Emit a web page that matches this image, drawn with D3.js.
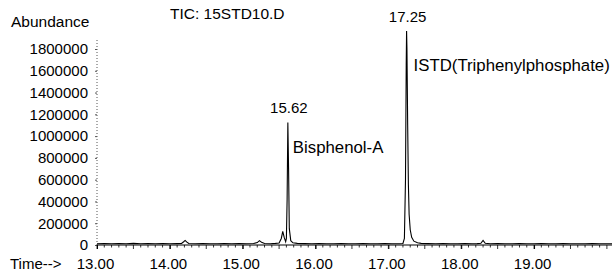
<!DOCTYPE html>
<html><head><meta charset="utf-8">
<script src="https://cdn.jsdelivr.net/npm/d3@7"></script>
<style>
html,body{margin:0;padding:0;background:#fff;}
svg text{font-family:"Liberation Sans",Arial,sans-serif;fill:#000;}
</style></head>
<body><svg id="c" width="616" height="271"></svg>
<script>
// Retention time (min)
const times = [13.00,13.10,13.20,13.30,13.40,13.50,13.60,13.70,13.80,13.90,14.00,14.10,14.16,14.19,14.21,14.23,14.26,14.35,14.45,14.55,14.65,14.75,14.85,14.95,15.05,15.15,15.20,15.23,15.26,15.30,15.38,15.45,15.50,15.53,15.55,15.57,15.59,15.60,15.61,15.62,15.63,15.64,15.66,15.69,15.75,15.85,15.95,16.05,16.15,16.25,16.35,16.45,16.55,16.65,16.75,16.85,16.95,17.05,17.15,17.20,17.22,17.235,17.245,17.25,17.255,17.265,17.275,17.285,17.30,17.32,17.35,17.40,17.45,17.55,17.65,17.75,17.85,17.95,18.05,18.15,18.22,18.27,18.30,18.33,18.40,18.50,18.60,18.70,18.80,18.90,19.00,19.10,19.20,19.30,19.40,19.50,19.60,19.70,19.80,19.90,20.00,20.07];
// Total ion current abundance
const abundance = [12000,14000,11000,13000,12000,15000,12000,13000,11000,14000,12000,13000,14000,30000,42000,28000,14000,12000,13000,11000,12000,14000,12000,13000,12000,14000,22000,40000,24000,14000,12000,15000,18000,60000,125000,70000,30000,60000,420000,1125000,700000,150000,40000,20000,15000,13000,12000,13000,11000,12000,13000,11000,12000,13000,11000,12000,13000,12000,12000,14000,60000,600000,1650000,1965000,1800000,1100000,550000,280000,140000,70000,35000,20000,15000,13000,12000,13000,11000,12000,13000,12000,13000,16000,42000,16000,12000,13000,11000,12000,13000,12000,12000,13000,11000,12000,13000,12000,11000,12000,13000,12000,12000,12000];
const yTicks = [0,200000,400000,600000,800000,1000000,1200000,1400000,1600000,1800000];
const xTicks = [13,14,15,16,17,18,19];
const peakLabels = [{t:15.62, text:"15.62"},{t:17.25, text:"17.25"}];
const compoundNames = ["Bisphenol-A","ISTD(Triphenylphosphate)"];

const svg = d3.select("#c");
const x = d3.scaleLinear().domain([13,20.07]).range([97,612]);
const y = d3.scaleLinear().domain([0,1800000]).range([245,49]);

// y axis (dotted)
svg.append("line").attr("x1",97).attr("x2",97).attr("y1",40).attr("y2",245)
  .attr("stroke","#555").attr("stroke-width",1).attr("stroke-dasharray","1,2");
const yAx = svg.append("g").attr("transform","translate(97,0)")
  .call(d3.axisLeft(y).tickValues(yTicks).tickSize(2).tickFormat(d3.format("d")));
yAx.select(".domain").remove();
yAx.selectAll("line").attr("stroke","#555");
yAx.selectAll("text").attr("x",-9).attr("font-size","15px").attr("font-family","Liberation Sans, Arial, sans-serif").attr("fill","#000");

// x axis
const xAx = svg.append("g").attr("transform","translate(0,245)")
  .call(d3.axisBottom(x).tickValues(xTicks).tickSize(4).tickPadding(9).tickFormat(d3.format(".2f")));
xAx.select(".domain").attr("d","M97,0H612").attr("stroke","#000");
xAx.selectAll("text").attr("font-size","15px").attr("font-family","Liberation Sans, Arial, sans-serif").attr("fill","#000").attr("dx","-2");
const minor = d3.range(130,201,1).map(v=>v/10).filter(v=>v<=20.07);
svg.append("g").selectAll("line").data(minor).join("line")
  .attr("x1",d=>x(d)).attr("x2",d=>x(d)).attr("y1",245).attr("y2",d=>Math.abs(d*2-Math.round(d*2))<1e-6?249:247.5)
  .attr("stroke","#000").attr("stroke-width",0.8);

// trace
svg.append("path").datum(times.map((t,i)=>[t,abundance[i]]))
  .attr("fill","none").attr("stroke","#000").attr("stroke-width",1.1)
  .attr("d",d3.line().x(d=>x(d[0])).y(d=>y(d[1])));

// texts
svg.append("text").attr("x",11).attr("y",27).attr("font-size","15.5px").text("Abundance");
svg.append("text").attr("x",170).attr("y",19).attr("font-size","15.5px").text("TIC: 15STD10.D");
svg.append("text").attr("x",10).attr("y",269).attr("font-size","15px").text("Time-->");
const peakY = {"15.62":113,"17.25":22};
peakLabels.forEach(p=>{
  svg.append("text").attr("x",x(p.t)+1).attr("y",peakY[p.text]).attr("text-anchor","middle").attr("font-size","15px").text(p.text);
});
svg.append("text").attr("x",x(15.62)+5).attr("y",153).attr("font-size","16.8px").text(compoundNames[0]);
svg.append("text").attr("x",x(17.25)+7).attr("y",71).attr("font-size","16.8px").text(compoundNames[1]);
</script></body></html>
